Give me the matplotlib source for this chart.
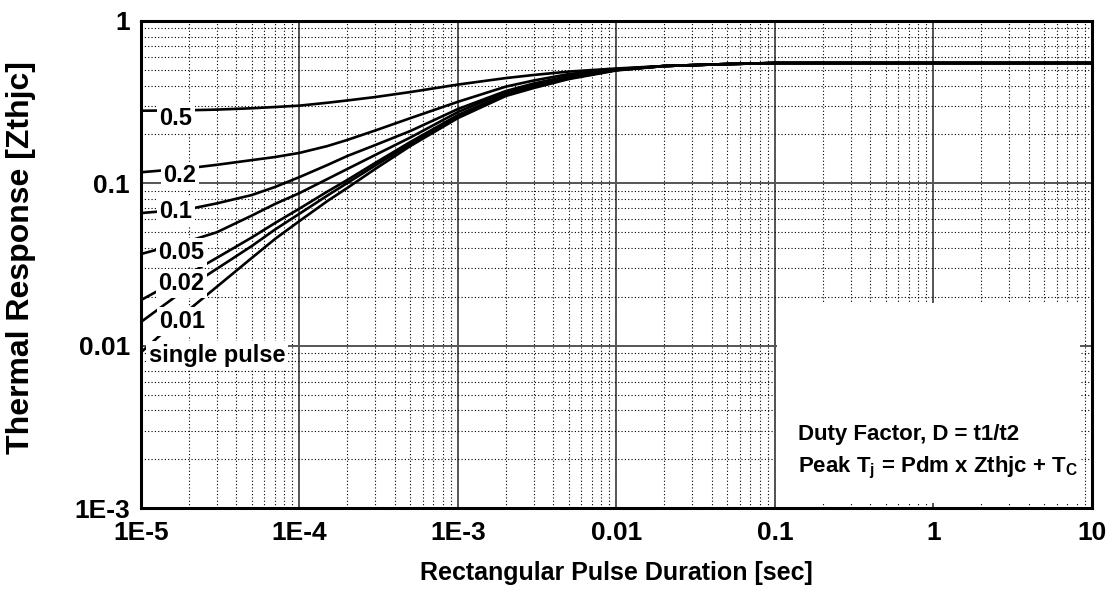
import matplotlib
matplotlib.use('Agg')
import matplotlib.pyplot as plt
from matplotlib.patches import Rectangle
from matplotlib.ticker import FixedLocator, NullFormatter

plt.rcParams['font.family'] = ['Liberation Sans', 'DejaVu Sans']
plt.rcParams['font.weight'] = 'bold'
plt.rcParams['mathtext.fontset'] = 'custom'
plt.rcParams['mathtext.rm'] = 'Liberation Sans:bold'
plt.rcParams['mathtext.it'] = 'Liberation Sans:bold'
plt.rcParams['mathtext.bf'] = 'Liberation Sans:bold'

# --- data ---
pulse_time = [1e-5, 2e-5, 3e-5, 5e-5, 7e-5, 1e-4, 1.5e-4, 2e-4, 3e-4, 5e-4, 1e-3, 2e-3, 3e-3,
              5e-3, 1e-2, 2e-2, 5e-2, 0.1, 1, 10]
tail = [0.528, 0.543, 0.551, 0.551, 0.551]

z_d05 = [0.280, 0.282, 0.2845, 0.290, 0.2952, 0.301, 0.3137, 0.324, 0.340, 0.365, 0.406,
         0.445, 0.465, 0.488, 0.510] + tail
z_d02 = [0.117, 0.124, 0.130, 0.139, 0.1452, 0.154, 0.1697, 0.185, 0.2115, 0.252, 0.318,
         0.394, 0.430, 0.471, 0.506] + tail
z_d01 = [0.0656, 0.0694, 0.0752, 0.0847, 0.0949, 0.1093, 0.1297, 0.1473, 0.172, 0.210, 0.287,
         0.370, 0.412, 0.458, 0.503] + tail
z_d005 = [0.0367, 0.0441, 0.0499, 0.0633, 0.0746, 0.0871, 0.1063, 0.1225, 0.1494, 0.1915, 0.275,
          0.365, 0.406, 0.452, 0.499] + tail
z_d002 = [0.0191, 0.0276, 0.0347, 0.0464, 0.0569, 0.0699, 0.0890, 0.1048, 0.1334, 0.1797, 0.2635,
          0.355, 0.3976, 0.445, 0.499] + tail
z_d001 = [0.0140, 0.0230, 0.0297, 0.0411, 0.0519, 0.0650, 0.0841, 0.1004, 0.1287, 0.1746, 0.258,
          0.350, 0.392, 0.442, 0.499] + tail
z_single = [0.0091, 0.0166, 0.0230, 0.0347, 0.0454, 0.0586, 0.0778, 0.0936, 0.1225, 0.1697, 0.2525,
            0.345, 0.3865, 0.439, 0.496] + tail

curves = [z_d05, z_d02, z_d01, z_d005, z_d002, z_d001, z_single]
curve_labels = ['0.5', '0.2', '0.1', '0.05', '0.02', '0.01', 'single pulse']
# label anchor (data coords)
label_pos = [(1.66e-5, 0.251), (1.76e-5, 0.111), (1.66e-5, 0.067), (1.80e-5, 0.0375),
             (1.80e-5, 0.0241), (1.83e-5, 0.0141), (3.02e-5, 0.0087)]

x_ticks = [1e-5, 1e-4, 1e-3, 1e-2, 0.1, 1, 10]
x_ticklabels = ['1E-5', '1E-4', '1E-3', '0.01', '0.1', '1', '10']
y_ticks = [1e-3, 1e-2, 0.1, 1]
y_ticklabels = ['1E-3', '0.01', '0.1', '1']

W, H = 1112, 601
fig = plt.figure(figsize=(W / 100, H / 100), dpi=100)
ax = fig.add_axes([141 / W, (H - 508) / H, 951 / W, 487 / H])
ax.set_xscale('log')
ax.set_yscale('log')
ax.set_xlim(1e-5, 10)
ax.set_ylim(1e-3, 1)

ax.xaxis.set_major_locator(FixedLocator(x_ticks))
ax.set_xticklabels(x_ticklabels)
ax.yaxis.set_major_locator(FixedLocator(y_ticks))
ax.set_yticklabels(y_ticklabels)
ax.xaxis.set_minor_formatter(NullFormatter())
ax.yaxis.set_minor_formatter(NullFormatter())
ax.tick_params(which='both', length=0)
ax.tick_params(axis='x', labelsize=19, pad=9)
ax.tick_params(axis='y', labelsize=19, pad=8)

ax.grid(True, which='major', color='#555555', linewidth=1.4, linestyle='-', zorder=0)
ax.grid(True, which='minor', color='black', linewidth=0.8, linestyle=(0, (1, 2)), zorder=0)
ax.set_axisbelow(True)

for s in ax.spines.values():
    s.set_linewidth(2.2)
    s.set_zorder(5)

# white note box (lower right)
ax.add_patch(Rectangle((0.669, 0.010), 0.318, 0.411, transform=ax.transAxes,
                       facecolor='white', edgecolor='none', zorder=1))
ax.axvline(0.1, ymax=0.43, color='#555555', linewidth=1.4, zorder=1.2)

for z in curves:
    ax.plot(pulse_time, z, color='black', linewidth=1.9, zorder=2)

for lab, (lx, ly) in zip(curve_labels, label_pos):
    ax.text(lx, ly, lab, fontsize=17, fontweight='bold', ha='center', va='center', zorder=3,
            bbox=dict(facecolor='white', edgecolor='none', boxstyle='square,pad=0.12'))

ax.text(0.691, 0.150, 'Duty Factor, D = t1/t2', transform=ax.transAxes,
        fontsize=16, fontweight='bold', ha='left', va='center', zorder=3)
ax.text(0.691, 0.083, r'Peak T$_{j}$ = Pdm x Zthjc + T$_{C}$', transform=ax.transAxes,
        fontsize=16, fontweight='bold', ha='left', va='center', zorder=3)

ax.set_xlabel('Rectangular Pulse Duration [sec]', fontsize=18, fontweight='bold', labelpad=12)
ax.set_ylabel('Thermal Response [Zthjc]', fontsize=23, fontweight='bold')
ax.yaxis.set_label_coords(-0.110, 0.515)

fig.savefig('out.png', dpi=100)
